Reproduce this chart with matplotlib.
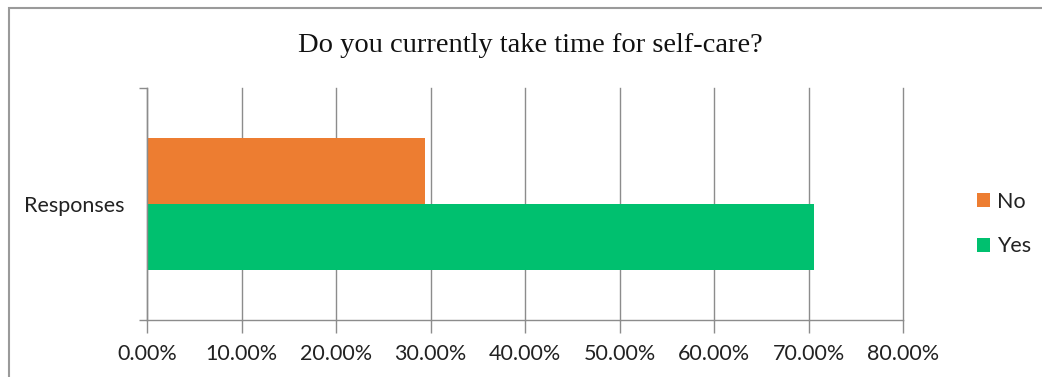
import matplotlib.pyplot as plt
from matplotlib.patches import Rectangle, Patch
from matplotlib.ticker import FuncFormatter, MultipleLocator

# survey answers, share of respondents in percent
answers = ["No", "Yes"]
shares = [29.41, 70.59]
colors = ["#ed7d31", "#00c06f"]
category = "Responses"
title = "Do you currently take time for self-care?"

W, H = 1042, 377
fig = plt.figure(figsize=(W / 100, H / 100), dpi=100)
ax = fig.add_axes([147 / W, 1 - 320 / H, (903 - 147) / W, (320 - 88) / H])

grid_col = "#8c8c8c"
bar_h = 0.2845
offsets = [bar_h / 2, -bar_h / 2]
for name, val, col, off in zip(answers, shares, colors, offsets):
    ax.barh(off, val, height=bar_h, color=col, label=name, zorder=3)

ax.set_xlim(0, 80)
ax.set_ylim(-0.5, 0.5)
ax.xaxis.set_major_locator(MultipleLocator(10))
ax.xaxis.set_major_formatter(FuncFormatter(lambda v, p: f"{v:.2f}%"))
ax.grid(axis="x", color=grid_col, lw=1.0, zorder=0)
for gl in ax.get_xgridlines():
    gl.set_clip_on(False)

ax.set_yticks([0])
ax.set_yticklabels([category])
ax.set_yticks([-0.5, 0.5], minor=True)
ax.tick_params(axis="y", which="major", length=0, pad=16.5)
ax.tick_params(axis="y", which="minor", length=6, color=grid_col, width=1.0)
ax.tick_params(axis="x", length=9, color=grid_col, width=1.0, pad=8)

for lbl in ax.get_xticklabels() + ax.get_yticklabels():
    lbl.set_fontfamily("Lato")
    lbl.set_fontsize(15.5)
    lbl.set_color("#222222")

for side in ["top", "right"]:
    ax.spines[side].set_visible(False)
for side in ["left", "bottom"]:
    ax.spines[side].set_color(grid_col)
    ax.spines[side].set_linewidth(1.0)
    ax.spines[side].set_zorder(4)

fig.text(530 / W, 1 - 45 / H, title, ha="center", va="center",
         fontfamily="Liberation Serif", fontsize=20.5, color="#111111")

handles = [Patch(facecolor=c, edgecolor="none") for c in colors]
leg = fig.legend(handles, answers, loc="center left",
                 bbox_to_anchor=(977 / W, 1 - 224 / H), frameon=False,
                 borderaxespad=0, borderpad=0,
                 handlelength=0.6, handleheight=0.6, handletextpad=0.32,
                 labelspacing=1.15, prop={"family": "Lato", "size": 15.5})
for t in leg.get_texts():
    t.set_color("#222222")

# chart frame
fig.patches.append(Rectangle((8.5 / W, -0.1), 1.2, 1 - 8.5 / H + 0.1,
                             transform=fig.transFigure, fill=False,
                             edgecolor="#9a9a9a", lw=1.5))

fig.savefig("out.png", dpi=100)
